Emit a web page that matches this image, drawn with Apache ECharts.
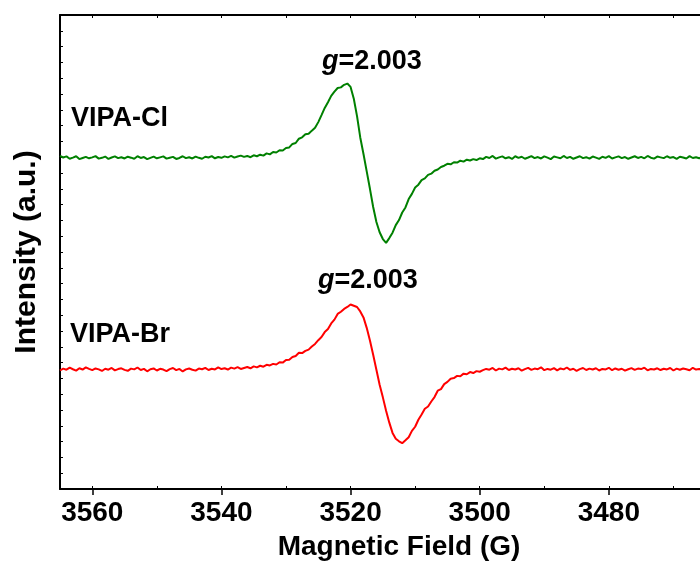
<!DOCTYPE html>
<html>
<head>
<meta charset="utf-8">
<script src="https://cdn.jsdelivr.net/npm/echarts@6/dist/echarts.min.js"></script>
<style>
html,body{margin:0;padding:0;background:#fff;}
#chart{width:700px;height:568px;}
</style>
</head>
<body>
<div id="chart"></div>
<script>
// Sampling grid of the spectra (Gauss): first field and step
const fieldStart = 3565;
const fieldStep = 0.5;

// VIPA-Cl spectrum (arbitrary units, offset upward)
const vipaCl = [
  21.08,20.98,21.05,20.90,20.97,21.06,20.88,20.95,21.02,20.93,
  20.99,21.07,20.91,20.96,21.04,20.89,20.98,21.05,20.94,21.00,
  20.92,21.03,20.97,20.90,21.06,20.95,21.01,20.88,20.96,21.04,
  20.93,20.99,21.05,20.91,20.97,21.02,20.89,20.95,21.06,20.94,
  21.00,20.92,21.04,20.96,20.90,21.03,20.98,21.07,20.93,21.01,
  20.96,21.05,20.99,21.08,20.97,21.04,21.10,
  21.02,21.08,21.00,21.12,21.06,21.16,21.10,21.24,21.18,21.33,
  21.30,21.44,21.42,21.58,21.62,21.84,21.90,22.17,22.26,22.45,
  22.48,22.68,22.86,23.22,23.66,24.12,24.48,24.88,25.15,25.38,
  25.42,25.58,25.66,25.45,24.70,23.60,22.25,21.20,20.10,19.00,
  17.85,16.90,16.25,15.82,15.58,15.88,16.22,16.70,17.02,17.50,
  17.82,18.35,18.68,19.08,19.26,19.55,19.66,19.88,19.96,20.14,
  20.22,20.38,20.46,20.58,20.55,20.68,20.66,20.78,20.72,20.84,
  20.79,20.88,20.82,20.93,
  20.88,21.02,20.95,21.08,20.91,20.99,21.05,20.93,21.00,20.89,
  21.06,20.96,21.03,20.90,20.98,21.07,20.94,21.01,20.92,21.05,
  20.97,20.88,21.04,20.99,20.93,21.08,20.95,21.02,20.90,20.98,
  21.06,20.94,21.00,20.91,21.04,20.97,20.89,21.03,20.96,21.07,
  20.92,20.99,21.05,20.94,21.01,20.90,20.98,21.06,20.95,21.02,
  20.93,21.08,20.97,20.91,21.04,20.99,20.94,21.06,20.96,21.01,
  20.89,21.03,20.98,20.92,21.07,20.95,21.00,20.93,21.05,20.97,
  21.02,20.91,21.06,20.96,21.03,21.08
];

// VIPA-Br spectrum (arbitrary units)
const vipaBr = [
  7.50,7.62,7.55,7.68,7.58,7.49,7.64,7.56,7.70,7.60,
  7.52,7.63,7.57,7.47,7.61,7.55,7.66,7.51,7.59,7.64,
  7.54,7.48,7.62,7.57,7.69,7.53,7.60,7.45,7.58,7.63,
  7.50,7.61,7.56,7.46,7.59,7.66,7.52,7.60,7.44,7.57,
  7.63,7.55,7.49,7.62,7.58,7.67,7.53,7.61,7.57,7.70,
  7.59,7.64,7.56,7.68,7.62,7.71,7.60,
  7.66,7.72,7.64,7.76,7.70,7.80,7.74,7.86,7.82,7.92,
  7.88,8.02,8.00,8.16,8.18,8.35,8.42,8.62,8.60,8.74,
  8.82,9.02,9.18,9.42,9.62,9.93,10.12,10.48,10.72,11.08,
  11.22,11.40,11.52,11.68,11.60,11.52,11.24,10.86,10.20,9.40,
  8.50,7.55,6.60,5.80,4.95,4.20,3.55,3.18,3.02,2.90,
  3.08,3.28,3.68,3.94,4.38,4.72,5.08,5.22,5.54,5.82,
  6.22,6.32,6.64,6.78,6.98,7.02,7.16,7.14,7.30,7.26,
  7.40,7.34,7.46,7.42,
  7.52,7.60,7.55,7.66,7.50,7.62,7.57,7.68,7.53,7.61,
  7.56,7.64,7.49,7.59,7.67,7.54,7.62,7.58,7.70,7.52,
  7.60,7.55,7.65,7.51,7.63,7.57,7.69,7.54,7.61,7.48,
  7.59,7.66,7.53,7.62,7.56,7.64,7.50,7.60,7.57,7.67,
  7.52,7.63,7.55,7.61,7.49,7.58,7.65,7.54,7.62,7.59,
  7.68,7.51,7.60,7.56,7.64,7.53,7.61,7.57,7.66,7.50,
  7.62,7.55,7.63,7.58,7.52,7.67,7.56,7.60,7.54,7.65,
  7.59,7.51,7.63,7.57,7.61,7.66
];

// Axis tick labels (Gauss) and minor tick positions
const majorTicks = [3560, 3540, 3520, 3500, 3480];
const minorTicks = [3560, 3550, 3540, 3530, 3520, 3510, 3500, 3490, 3480, 3470];
const sampleNames = ['VIPA-Cl', 'VIPA-Br'];
const gLabel = '2.003';

const FONT = '"Liberation Sans", Arial, Helvetica, sans-serif';

function toPairs(arr) {
  return arr.map((v, i) => [fieldStart - i * fieldStep, v]);
}

const chart = echarts.init(document.getElementById('chart'), null, {renderer: 'canvas'});

const axisLine = {show: true, lineStyle: {color: '#000', width: 2}};

const option = {
  animation: false,
  backgroundColor: '#fff',
  grid: {left: 60, top: 15, width: 678, height: 474, containLabel: false, outerBoundsMode: 'none'},
  xAxis: [
    {
      type: 'value', position: 'bottom', inverse: true, min: 3460, max: 3565,
      axisLine: axisLine,
      axisTick: {show: true, inside: false, length: 6, lineStyle: {color: '#000', width: 1.5}, customValues: majorTicks},
      axisLabel: {show: true, customValues: majorTicks, margin: 10, color: '#000',
        fontSize: 28, fontWeight: 'bold', fontFamily: FONT, formatter: (v) => String(v)},
      splitLine: {show: false},
      name: 'Magnetic Field (G)', nameLocation: 'middle', nameGap: 44,
      nameTextStyle: {fontSize: 28, fontWeight: 'bold', fontFamily: FONT, color: '#000'}
    },
    {
      type: 'value', position: 'bottom', inverse: true, min: 3460, max: 3565,
      axisLine: {show: false},
      axisTick: {show: true, inside: true, length: 3, lineStyle: {color: '#000', width: 1}, customValues: minorTicks},
      axisLabel: {show: false},
      splitLine: {show: false}
    },
    {
      type: 'value', position: 'top', inverse: true, min: 3460, max: 3565,
      axisLine: axisLine,
      axisTick: {show: true, inside: true, length: 3, lineStyle: {color: '#000', width: 1}, customValues: minorTicks},
      axisLabel: {show: false},
      splitLine: {show: false}
    }
  ],
  yAxis: [
    {
      type: 'value', position: 'left', min: 0, max: 30, interval: 1,
      axisLine: axisLine,
      axisTick: {show: true, inside: true, length: 3, lineStyle: {color: '#000', width: 1}},
      axisLabel: {show: false},
      splitLine: {show: false},
      name: 'Intensity (a.u.)', nameLocation: 'middle', nameGap: 18,
      nameTextStyle: {fontSize: 30, fontWeight: 'bold', fontFamily: FONT, color: '#000'}
    }
  ],
  series: [
    {
      name: sampleNames[0], type: 'line', xAxisIndex: 0, yAxisIndex: 0,
      data: toPairs(vipaCl), showSymbol: false, symbol: 'none',
      lineStyle: {color: '#008000', width: 2}, itemStyle: {color: '#008000'}
    },
    {
      name: sampleNames[1], type: 'line', xAxisIndex: 0, yAxisIndex: 0,
      data: toPairs(vipaBr), showSymbol: false, symbol: 'none',
      lineStyle: {color: '#ff0000', width: 2}, itemStyle: {color: '#ff0000'}
    }
  ],
  graphic: [
    {type: 'text', x: 71, y: 119, style: {text: sampleNames[0], fill: '#000', font: 'bold 27px ' + FONT, verticalAlign: 'middle', align: 'left'}},
    {type: 'text', x: 70, y: 335, style: {text: sampleNames[1], fill: '#000', font: 'bold 27px ' + FONT, verticalAlign: 'middle', align: 'left'}},
    {type: 'text', x: 322, y: 62, style: {
      text: '{i|g}{n|=' + gLabel + '}', verticalAlign: 'middle', align: 'left',
      rich: {
        i: {fontStyle: 'italic', fontWeight: 'bold', fontSize: 27, fontFamily: FONT, fill: '#000'},
        n: {fontWeight: 'bold', fontSize: 27, fontFamily: FONT, fill: '#000'}
      }}},
    {type: 'text', x: 318, y: 281, style: {
      text: '{i|g}{n|=' + gLabel + '}', verticalAlign: 'middle', align: 'left',
      rich: {
        i: {fontStyle: 'italic', fontWeight: 'bold', fontSize: 27, fontFamily: FONT, fill: '#000'},
        n: {fontWeight: 'bold', fontSize: 27, fontFamily: FONT, fill: '#000'}
      }}}
  ]
};

chart.setOption(option);
</script>
</body>
</html>
